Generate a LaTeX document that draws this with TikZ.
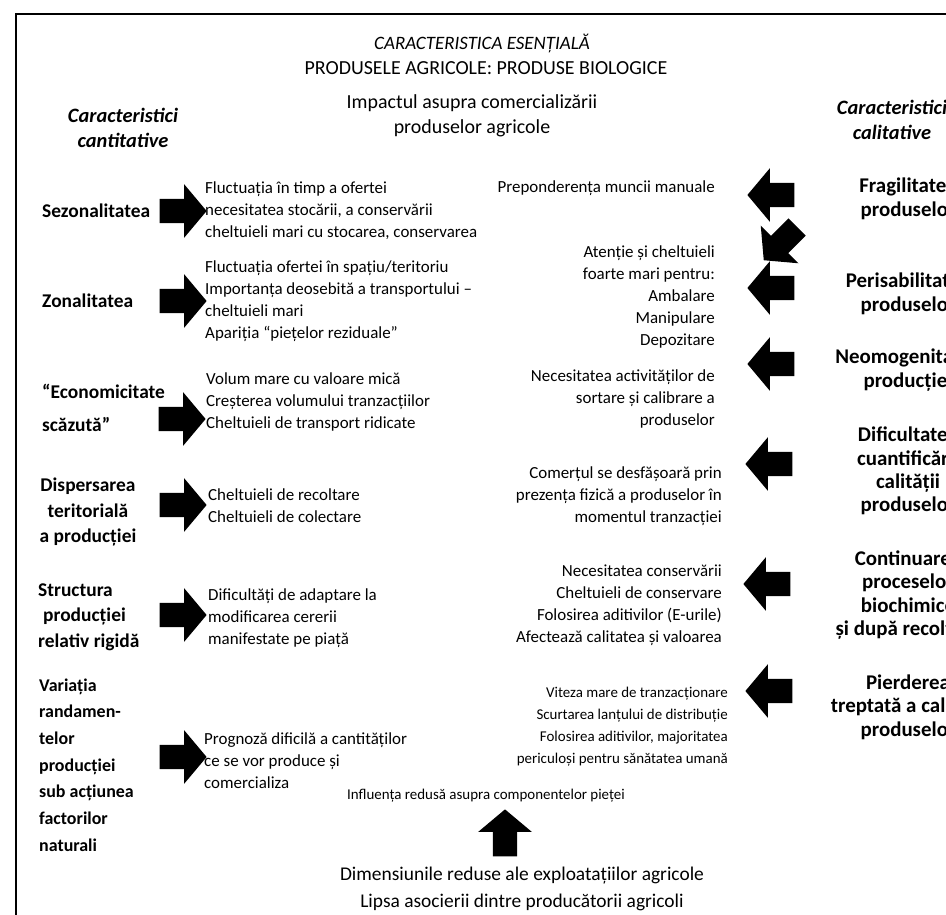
\documentclass[tikz,border=0pt]{standalone}
\usepackage{fontspec}
\setmainfont{Carlito}
\usepackage{tikz}
\usetikzlibrary{shapes,arrows}

\begin{document}
\begin{tikzpicture}[
  lab/.style={font=\fontsize{19.5}{25.5}\selectfont\bfseries, inner sep=0pt, align=left},
  labc/.style={lab, align=center},
  labr/.style={font=\fontsize{21}{23.5}\selectfont\bfseries, inner sep=0pt, align=center},
  hdr/.style={font=\fontsize{20.5}{25}\selectfont\bfseries\itshape, inner sep=0pt, align=center},
  txt/.style={font=\fontsize{17}{22}\selectfont, inner sep=0pt, align=left},
  txtr/.style={txt, align=right},
  txts/.style={font=\fontsize{15}{22}\selectfont, inner sep=0pt, align=right},
  big/.style={font=\fontsize{19.5}{24}\selectfont, inner sep=0pt},
  rarr/.style={single arrow, fill=black, inner xsep=0pt, inner ysep=12bp, minimum height=47bp, minimum width=53bp, single arrow head extend=14.5bp, single arrow tip angle=100},
  larr/.style={rarr, shape border rotate=180}
]
\useasboundingbox (0bp,0bp) rectangle (946bp,-915bp);
\clip (0bp,0bp) rectangle (946bp,-915bp);
\draw [line width=2.5bp] (946bp,-14bp) -- (16bp,-14bp) -- (16bp,-915bp);

\node (ess) at (482bp,-43bp)[big, font=\fontsize{19}{24}\selectfont\itshape] {CARACTERISTICA ESENȚIALĂ};
\node (bio) at (486bp,-68bp)[big, font=\fontsize{20}{24}\selectfont] {PRODUSELE AGRICOLE: PRODUSE BIOLOGICE};
\node (imp) at (472bp,-116bp)[big, font=\fontsize{20}{25}\selectfont, align=center] {Impactul asupra comercializării\\produselor agricole};
\node (cant) at (123bp,-128bp)[hdr] {Caracteristici\\cantitative};
\node (cal) at (892bp,-120bp)[hdr] {Caracteristici\\calitative};

% caracteristici cantitative
\node (sez) at (42bp,-211bp)[lab, anchor=west] {Sezonalitatea};
\node (zon) at (42bp,-301bp)[lab, anchor=west] {Zonalitatea};
\node (eco) at (42bp,-408bp)[lab, anchor=west, font=\fontsize{19.5}{33}\selectfont\bfseries] {“Economicitate\\scăzută”};
\node (dis) at (88bp,-512bp)[labc] {Dispersarea\\teritorială\\a producției};
\node (str) at (38bp,-617bp)[lab, anchor=west] {Structura\\\hspace{5bp}producției\\relativ rigidă};
\node (var) at (39bp,-765bp)[lab, anchor=west, font=\fontsize{18}{26.8}\selectfont\bfseries] {Variația\\randamen-\\telor\\producției\\sub acțiunea\\factorilor\\naturali};

\node (as) at (178bp,-211bp)[rarr] {};
\node (az) at (178bp,-301bp)[rarr] {};
\node (ae) at (177bp,-419bp)[rarr] {};
\node (ad) at (178bp,-505bp)[rarr] {};
\node (at) at (178bp,-615bp)[rarr] {};
\node (av) at (178bp,-757bp)[rarr] {};

\node (ts) at (205bp,-211bp)[txt, anchor=west] {Fluctuația în timp a ofertei\\necesitatea stocării, a conservării\\cheltuieli mari cu stocarea, conservarea};
\node (tz) at (205bp,-301bp)[txt, anchor=west] {Fluctuația ofertei în spațiu/teritoriu\\Importanța deosebită a transportului –\\cheltuieli mari\\Apariția “piețelor reziduale”};
\node (te) at (206bp,-402bp)[txt, anchor=west] {Volum mare cu valoare mică\\Creșterea volumului tranzacțiilor\\Cheltuieli de transport ridicate};
\node (td) at (208bp,-506bp)[txt, anchor=west] {Cheltuieli de recoltare\\Cheltuieli de colectare};
\node (tt) at (208bp,-618bp)[txt, anchor=west] {Dificultăți de adaptare la\\modificarea cererii\\manifestate pe piață};
\node (tv) at (204bp,-761bp)[txt, anchor=west] {Prognoză dificilă a cantităților\\ce se vor produce și\\comercializa};

% caracteristici calitative
\node (rf) at (715bp,-188bp)[txtr, anchor=east] {Preponderența muncii manuale};
\node (rp) at (715bp,-297bp)[txtr, anchor=east] {Atenție și cheltuieli\\foarte mari pentru:\\Ambalare\\Manipulare\\Depozitare};
\node (rn) at (715bp,-399bp)[txtr, anchor=east] {Necesitatea activităților de\\sortare și calibrare a\\produselor};
\node (rd) at (722bp,-496bp)[txtr, anchor=east] {Comerțul se desfășoară prin\\prezența fizică a produselor în\\momentul tranzacției};
\node (rc) at (722bp,-605bp)[txtr, anchor=east] {Necesitatea conservării\\Cheltuieli de conservare\\Folosirea aditivilor (E-urile)\\Afectează calitatea și valoarea};
\node (rq) at (728bp,-727bp)[txts, anchor=east] {Viteza mare de tranzacționare\\Scurtarea lanțului de distribuție\\Folosirea aditivilor, majoritatea\\periculoși pentru sănătatea umană};

\node (bf) at (776bp,-195bp)[larr] {};
\node (bx) at (784bp,-240bp)[larr, rotate=45] {};
\node (bp) at (776bp,-288bp)[larr] {};
\node (bn) at (776bp,-364bp)[larr] {};
\node (bd) at (774bp,-464bp)[larr] {};
\node (bc) at (772bp,-584bp)[larr] {};
\node (bq) at (774bp,-691bp)[larr] {};

\node (fra) at (908bp,-199bp)[labr] {Fragilitatea\\produselor};
\node (per) at (908bp,-294bp)[labr] {Perisabilitatea\\produselor};
\node (neo) at (908bp,-370bp)[labr] {Neomogenitatea\\producției};
\node (dif) at (908bp,-471bp)[labr] {Dificultatea\\cuantificării\\calității\\produselor};
\node (con) at (908bp,-595bp)[labr] {Continuarea\\proceselor\\biochimice\\și după recoltare};
\node (pie) at (908bp,-707bp)[labr] {Pierderea\\treptată a calității\\produselor};

% exploatatii
\node (inf) at (486bp,-796bp)[txts] {Influența redusă asupra componentelor pieței};
\node (up) at (505bp,-838bp)[rarr, rotate=90] {};
\node (dim) at (522bp,-876bp)[big] {Dimensiunile reduse ale exploatațiilor agricole};
\node (lip) at (522bp,-902bp)[big] {Lipsa asocierii dintre producătorii agricoli};
\end{tikzpicture}
\end{document}
